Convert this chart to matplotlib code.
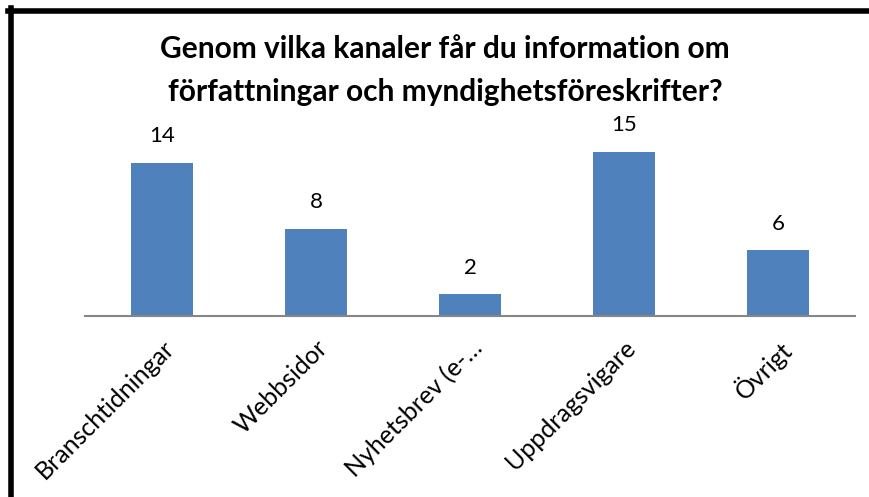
import matplotlib.pyplot as plt
from matplotlib.lines import Line2D

# data
categories = ['Branschtidningar', 'Webbsidor', 'Nyhetsbrev (e-…',
              'Uppdragsvigare', 'Övrigt']
values = [14, 8, 2, 15, 6]

title = 'Genom vilka kanaler får du information om\nförfattningar och myndighetsföreskrifter?'

plt.rcParams['font.family'] = ['Lato', 'DejaVu Sans']

fig = plt.figure(figsize=(8.69, 4.97), dpi=100)
ax = fig.add_axes([0.0978, 0.364, 0.886, 0.352])

bars = ax.bar(range(len(categories)), values, width=0.40, color='#4F81BD')
for rect, v in zip(bars, values):
    ax.annotate(str(v), (rect.get_x() + rect.get_width() / 2, v),
                xytext=(0, 12), textcoords='offset points',
                ha='center', va='bottom', fontsize=16)

ax.set_xlim(-0.5, len(categories) - 0.5)
ax.set_ylim(0, 16)
ax.set_yticks([])
ax.set_xticks(range(len(categories)))
ax.set_xticklabels(categories, rotation=45, ha='right',
                   rotation_mode='anchor', fontsize=18)
ax.tick_params(axis='x', length=0, pad=14)
for s in ['top', 'left', 'right']:
    ax.spines[s].set_visible(False)
ax.spines['bottom'].set_color('#868686')
ax.spines['bottom'].set_linewidth(1.5)

fig.text(0.512, 0.93, title, ha='center', va='top', fontsize=21.5,
         fontweight='bold', linespacing=1.65)

# outer frame (top and left edges visible in the crop)
fig.add_artist(Line2D([8 / 869, 1], [1 - 10.5 / 497] * 2, color='black',
                      lw=4, transform=fig.transFigure))
fig.add_artist(Line2D([10.5 / 869] * 2, [0, 1 - 8 / 497], color='black',
                      lw=4, transform=fig.transFigure))

fig.savefig('out.png', dpi=100)
